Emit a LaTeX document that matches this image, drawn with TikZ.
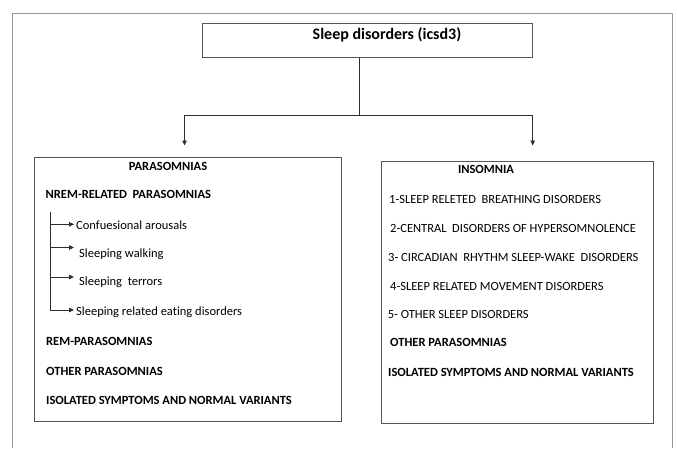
\documentclass[tikz,border=0pt]{standalone}
\usepackage{fontspec}
\setmainfont{Carlito}[Ligatures=NoCommon]
\usetikzlibrary{arrows.meta}
\definecolor{linegray}{RGB}{45,45,45}
\definecolor{boxgray}{RGB}{85,85,85}
\definecolor{framegray}{RGB}{150,150,150}
\tikzset{
  box/.style={draw=boxgray, line width=0.9pt, anchor=north west, inner sep=0pt},
  txt/.style={anchor=base west, inner sep=0pt, font=\fontsize{12.5}{14}\selectfont},
  bold/.style={txt, font=\fontsize{12.5}{14}\selectfont\bfseries},
  tip/.style={-{Triangle[length=5pt,width=4.5pt]}, draw=linegray, line width=0.8pt},
}
\begin{document}
\begin{tikzpicture}[x=1pt,y=1pt,yscale=-1]
\useasboundingbox (0,0) rectangle (677,448);
% outer frame
\draw [framegray, line width=0.9pt] (12.5,448) -- (12.5,13.3) -- (672.7,13.3) -- (672.7,448);

% Boxes
\node [box, minimum width=330pt, minimum height=34.3pt] (root) at (202,22.7) {};
\node [box, minimum width=307.2pt, minimum height=264.3pt] (para) at (33.5,156.7) {};
\node [box, minimum width=271.7pt, minimum height=262.6pt] (insom) at (381,160.7) {};

% Text Node
\node [anchor=base, inner sep=0pt, font=\fontsize{16}{18}\selectfont\bfseries] (title) at (387,39) {Sleep disorders (icsd3)};

% Connection
\coordinate (split) at (359.5,115);
\coordinate (lsplit) at (184.5,115);
\coordinate (rsplit) at (532.7,115);
\coordinate (ltip) at (184.5,145.5);
\coordinate (rtip) at (532.7,145.5);
\draw [linegray, line width=0.8pt] (root.south -| split) -- (split);
\draw [linegray, line width=0.8pt] (lsplit) -- (rsplit);
\draw [tip] (lsplit) -- (ltip);
\draw [tip] (rsplit) -- (rtip);

% Parasomnias
\node [bold, anchor=base] (phead) at (168,170.5) {PARASOMNIAS};
\node [bold] (nrem) at (45.5,198.5) {NREM-RELATED~ PARASOMNIAS};
\node [txt] (conf) at (76,229) {Confuesional arousals};
\node [txt] (walk) at (79,257) {Sleeping walking};
\node [txt] (terr) at (79,285.5) {Sleeping~ terrors};
\node [txt] (eat) at (76,315.5) {Sleeping related eating disorders};
\node [bold] (rem) at (46,345.5) {REM-PARASOMNIAS};
\node [bold] (pother) at (46,375) {OTHER PARASOMNIAS};
\node [bold] (piso) at (46,404) {ISOLATED SYMPTOMS AND NORMAL VARIANTS};

% Bracket
\coordinate (brtop) at (50,211.5);
\coordinate (br1) at (50,224.3);
\coordinate (br2) at (50,247.5);
\coordinate (br3) at (50,277);
\coordinate (brbot) at (50,310);
\draw [linegray, line width=0.8pt] (brtop) -- (brbot);
\draw [tip, shorten >=2pt] (br1) -- (br1 -| conf.west);
\draw [tip, shorten >=5pt] (br2) -- (br2 -| walk.west);
\draw [tip, shorten >=5pt] (br3) -- (br3 -| terr.west);
\draw [tip, shorten >=2pt] (brbot) -- (brbot -| eat.west);

% Insomnia
\node [bold, anchor=base] (ihead) at (486,173.5) {INSOMNIA};
\node [txt] (breath) at (389,203.3) {1-SLEEP RELETED~ BREATHING DISORDERS};
\node [txt] (hyper) at (390,232.7) {2-CENTRAL~ DISORDERS OF HYPERSOMNOLENCE};
\node [txt] (circ) at (388,261.7) {3- CIRCADIAN~ RHYTHM SLEEP-WAKE~ DISORDERS};
\node [txt] (move) at (390,290.7) {4-SLEEP RELATED MOVEMENT DISORDERS};
\node [txt] (iother) at (387.7,318.3) {5- OTHER SLEEP DISORDERS};
\node [bold] (ipara) at (390,346.7) {OTHER PARASOMNIAS};
\node [bold] (iiso) at (388,376) {ISOLATED SYMPTOMS AND NORMAL VARIANTS};
\end{tikzpicture}
\end{document}
